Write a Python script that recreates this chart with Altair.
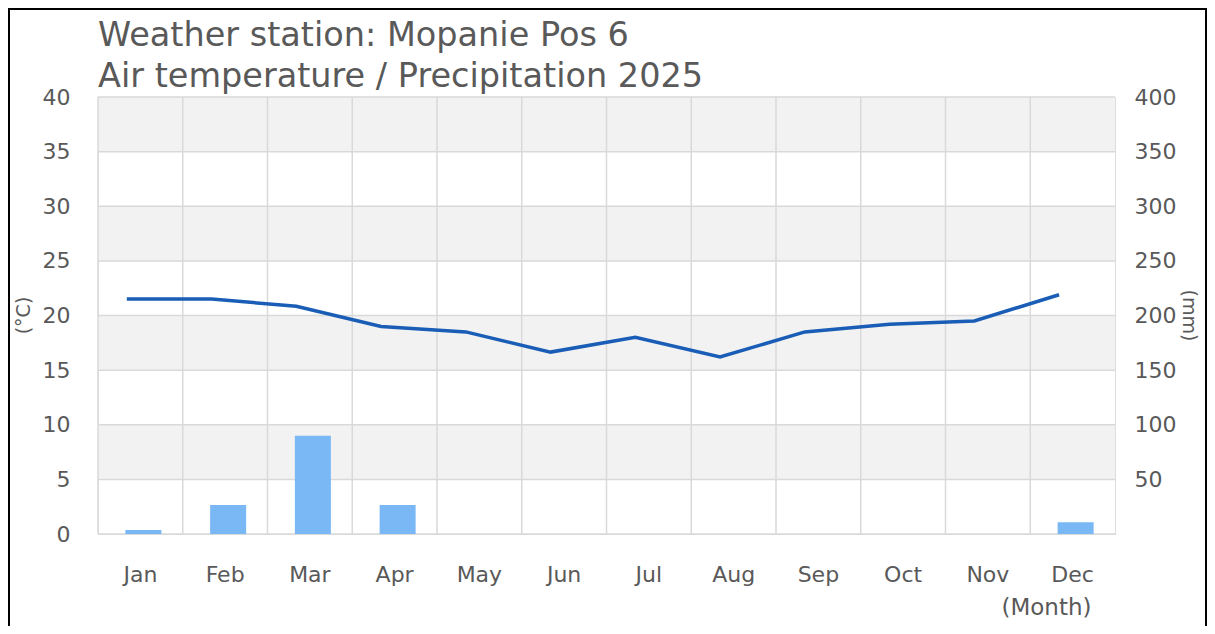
import altair as alt
import pandas as pd

months = ["Jan", "Feb", "Mar", "Apr", "May", "Jun", "Jul", "Aug", "Sep", "Oct", "Nov", "Dec"]
temperature = [21.5, 21.5, 20.85, 19.0, 18.5, 16.65, 18.0, 16.2, 18.5, 19.2, 19.5, 21.9]
precipitation = [3.7, 26.5, 90.0, 26.5, 0, 0, 0, 0, 0, 0, 0, 10.8]
temp_ticks = [0, 5, 10, 15, 20, 25, 30, 35, 40]
precip_ticks = [50, 100, 150, 200, 250, 300, 350, 400]
band_low = [5, 15, 25, 35]
band_high = [10, 20, 30, 40]

FONT = "DejaVu Sans"
TXT = "#595959"
GRID = "#d9d9d9"
W, H = 1017, 437

df = pd.DataFrame({"month": months, "temp": temperature, "precip": precipitation})
bands = pd.DataFrame({"lo": band_low, "hi": band_high})
hgrid = pd.DataFrame({"v": temp_ticks})

x_scale = alt.Scale(domain=months, paddingInner=0, paddingOuter=0)
temp_scale = alt.Scale(domain=[0, 40], nice=False, zero=True)
precip_scale = alt.Scale(domain=[0, 400], nice=False, zero=True)

x_axis = alt.Axis(
    title="(Month)", labelAngle=0, ticks=False, domain=False, grid=False,
    labelFont=FONT, labelFontSize=22, labelColor=TXT, labelPadding=30,
    titleFont=FONT, titleFontSize=23, titleColor=TXT, titleFontWeight="normal",
    titleX=993, titleY=73, titleAlign="right", titleBaseline="middle",
)
left_axis = alt.Axis(
    title="(°C)", values=temp_ticks, ticks=False, domain=False, grid=False,
    labelFont=FONT, labelFontSize=22, labelColor=TXT, labelPadding=28,
    titleFont=FONT, titleFontSize=19, titleColor=TXT, titleFontWeight="normal",
    titleX=-75, titleY=218, titleAngle=270, titleAlign="center", titleBaseline="middle",
)
right_axis = alt.Axis(
    title="(mm)", orient="right", values=precip_ticks, ticks=False, domain=False, grid=False,
    labelFont=FONT, labelFontSize=22, labelColor=TXT, labelPadding=19,
    titleFont=FONT, titleFontSize=19, titleColor=TXT, titleFontWeight="normal",
    titleX=73, titleY=218, titleAngle=90, titleAlign="center", titleBaseline="middle",
)

base = alt.Chart(df)

band_layer = alt.Chart(bands).mark_rect(color="#f2f2f2").encode(
    y=alt.Y("lo:Q", scale=temp_scale, axis=left_axis),
    y2="hi:Q",
)
hgrid_layer = alt.Chart(hgrid).mark_rule(color=GRID, strokeWidth=1.5).encode(
    y=alt.Y("v:Q", scale=temp_scale, axis=left_axis),
)
vgrid_layer = base.mark_rule(color=GRID, strokeWidth=1.5).encode(
    x=alt.X("month:N", sort=months, scale=x_scale, axis=x_axis, bandPosition=0),
)
line_layer = base.mark_line(color="#1a5db6", strokeWidth=3.5).encode(
    x=alt.X("month:N", sort=months, scale=x_scale, axis=x_axis, bandPosition=0.34),
    y=alt.Y("temp:Q", scale=temp_scale, axis=left_axis),
)
frame_layer = base.mark_rect(fill=None, stroke="black", strokeWidth=2).encode(
    x=alt.value(-89), x2=alt.value(W + 91), y=alt.value(-88), y2=alt.value(H + 100),
)

bar_layer = base.mark_bar(color="#7ab7f5", size=36, xOffset=3).encode(
    x=alt.X("month:N", sort=months, scale=x_scale, axis=x_axis),
    y=alt.Y("precip:Q", scale=precip_scale, axis=right_axis),
)

inner = alt.layer(band_layer, hgrid_layer, vgrid_layer, line_layer, frame_layer)

chart = alt.layer(inner, bar_layer).resolve_scale(y="independent").properties(
    width=W,
    height=H,
    autosize="none",
    padding={"left": 90, "top": 89, "right": 92, "bottom": 92},
    title=alt.TitleParams(
        text=["Weather station: Mopanie Pos 6", "Air temperature / Precipitation 2025"],
        anchor="start", frame="group", font=FONT, fontSize=33.5, fontWeight="normal",
        color=TXT, lineHeight=41, offset=-86,
    ),
).configure_view(stroke=GRID, strokeWidth=1.5).configure(background="white")

chart.save("out.html", embed_options={"renderer": "svg", "actions": False})
